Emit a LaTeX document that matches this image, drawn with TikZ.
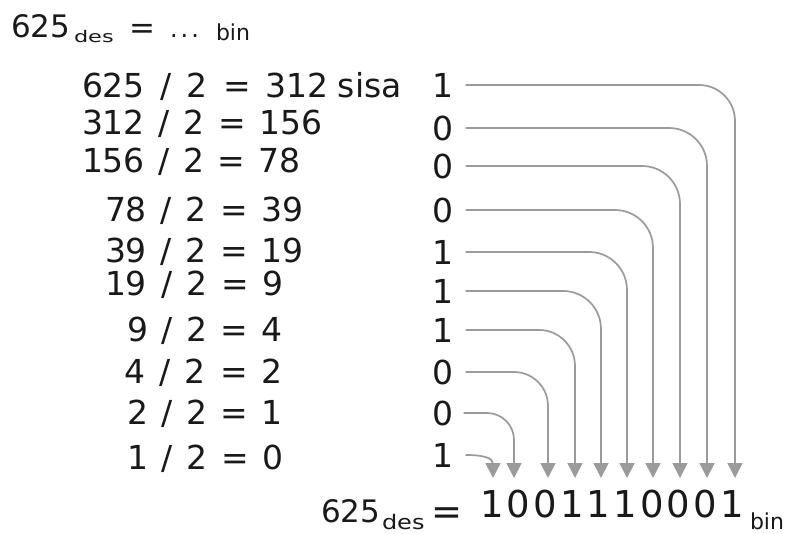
\documentclass[tikz,border=0pt]{standalone}
\usepackage{fontspec}
\setmainfont{DejaVu Sans}
\usepackage{graphicx}
\usetikzlibrary{arrows.meta}
\definecolor{txt}{RGB}{25,25,25}
\definecolor{ln}{RGB}{155,155,155}
\begin{document}
\begin{tikzpicture}[x=1pt,y=-1pt,
  every node/.style={inner sep=0pt, outer sep=0pt, text=txt},
  eqtext/.style={anchor=base west, font=\fontsize{33}{36}\selectfont},
  bitnode/.style={anchor=base, font=\fontsize{33}{36}\selectfont},
  conn/.style={draw=ln, line width=1.7pt, -{Triangle[length=15pt,width=15pt]}},
]
\fill[white] (0,0) rectangle (797,533);
\useasboundingbox (0,0) rectangle (797,533);

% title
\node[anchor=base west, font=\fontsize{31}{34}\selectfont] (t625) at (11,37) {625};
\node[anchor=base west, font=\fontsize{16}{18}\selectfont] (tdes) at (74,42) {\scalebox{1.4}[1]{des}};
\node[anchor=base, font=\fontsize{31}{34}\selectfont] (teq) at (142,38) {=};
\node[anchor=base west, font=\fontsize{24}{26}\selectfont] (tdots) at (170,37) {\makebox[29pt][s]{.\hfill.\hfill.}};
\node[anchor=base west, font=\fontsize{22}{24}\selectfont] (tbin) at (216,40) {bin};

% divisions
\node[eqtext] (e1) at (82,97) {\makebox[247pt][s]{625 / 2 = 312}\hspace{9pt}sisa};
\node[eqtext] (e2) at (82,134) {\makebox[241pt][s]{312 / 2 = 156}};
\node[eqtext] (e3) at (82,172) {\makebox[219pt][s]{156 / 2 = 78}};
\node[eqtext] (e4) at (105,221) {\makebox[199pt][s]{78 / 2 = 39}};
\node[eqtext] (e5) at (105,262) {\makebox[199pt][s]{39 / 2 = 19}};
\node[eqtext] (e6) at (105,295) {\makebox[179pt][s]{19 / 2 = 9}};
\node[eqtext] (e7) at (127,341) {\makebox[156pt][s]{9 / 2 = 4}};
\node[eqtext] (e8) at (124,383) {\makebox[159pt][s]{4 / 2 = 2}};
\node[eqtext] (e9) at (127,424) {\makebox[156pt][s]{2 / 2 = 1}};
\node[eqtext] (e10) at (127,469) {\makebox[157pt][s]{1 / 2 = 0}};

% remainders
\node[bitnode] (b1) at (443,97) {1};
\node[bitnode] (b2) at (443,140) {0};
\node[bitnode] (b3) at (443,178) {0};
\node[bitnode] (b4) at (443,222) {0};
\node[bitnode] (b5) at (443,264) {1};
\node[bitnode] (b6) at (443,303) {1};
\node[bitnode] (b7) at (443,342) {1};
\node[bitnode] (b8) at (443,384) {0};
\node[bitnode] (b9) at (443,425) {0};
\node[bitnode] (b10) at (443,467) {1};

% arrow tips
\coordinate (t1) at (735,478);
\coordinate (t2) at (707,478);
\coordinate (t3) at (680,478);
\coordinate (t4) at (653,478);
\coordinate (t5) at (627,478);
\coordinate (t6) at (601,478);
\coordinate (t7) at (575,478);
\coordinate (t8) at (548,478);
\coordinate (t9) at (514,478);
\coordinate (t10) at (493,478);

\draw[conn, rounded corners=36pt] ([xshift=12pt]b1.east) -| (t1);
\draw[conn, rounded corners=38pt] ([xshift=12pt]b2.east) -| (t2);
\draw[conn, rounded corners=38pt] ([xshift=12pt]b3.east) -| (t3);
\draw[conn, rounded corners=38pt] ([xshift=12pt]b4.east) -| (t4);
\draw[conn, rounded corners=38pt] ([xshift=12pt]b5.east) -| (t5);
\draw[conn, rounded corners=38pt] ([xshift=12pt]b6.east) -| (t6);
\draw[conn, rounded corners=36pt] ([xshift=12pt]b7.east) -| (t7);
\draw[conn, rounded corners=34pt] ([xshift=12pt]b8.east) -| (t8);
\draw[conn, rounded corners=27pt] ([xshift=10pt]b9.east) -| (t9);
\draw[conn] ([xshift=12pt]b10.east) .. controls +(18,0) and +(0,-20) .. (t10);

% result
\node[anchor=base west, font=\fontsize{31}{34}\selectfont] (r625) at (321,522) {625};
\node[anchor=base west, font=\fontsize{20}{22}\selectfont] (rdes) at (382,529) {\scalebox{1.2}[1]{des}};
\node[anchor=base, font=\fontsize{37}{40}\selectfont] (req) at (447,524) {=};
\node[anchor=base west, font=\fontsize{37}{40}\selectfont] (rbits) at (480,517) {\makebox[264pt][s]{1\hfill 0\hfill 0\hfill 1\hfill 1\hfill 1\hfill 0\hfill 0\hfill 0\hfill 1}};
\node[anchor=base west, font=\fontsize{22}{24}\selectfont] (rbin) at (750,529) {bin};
\end{tikzpicture}
\end{document}
